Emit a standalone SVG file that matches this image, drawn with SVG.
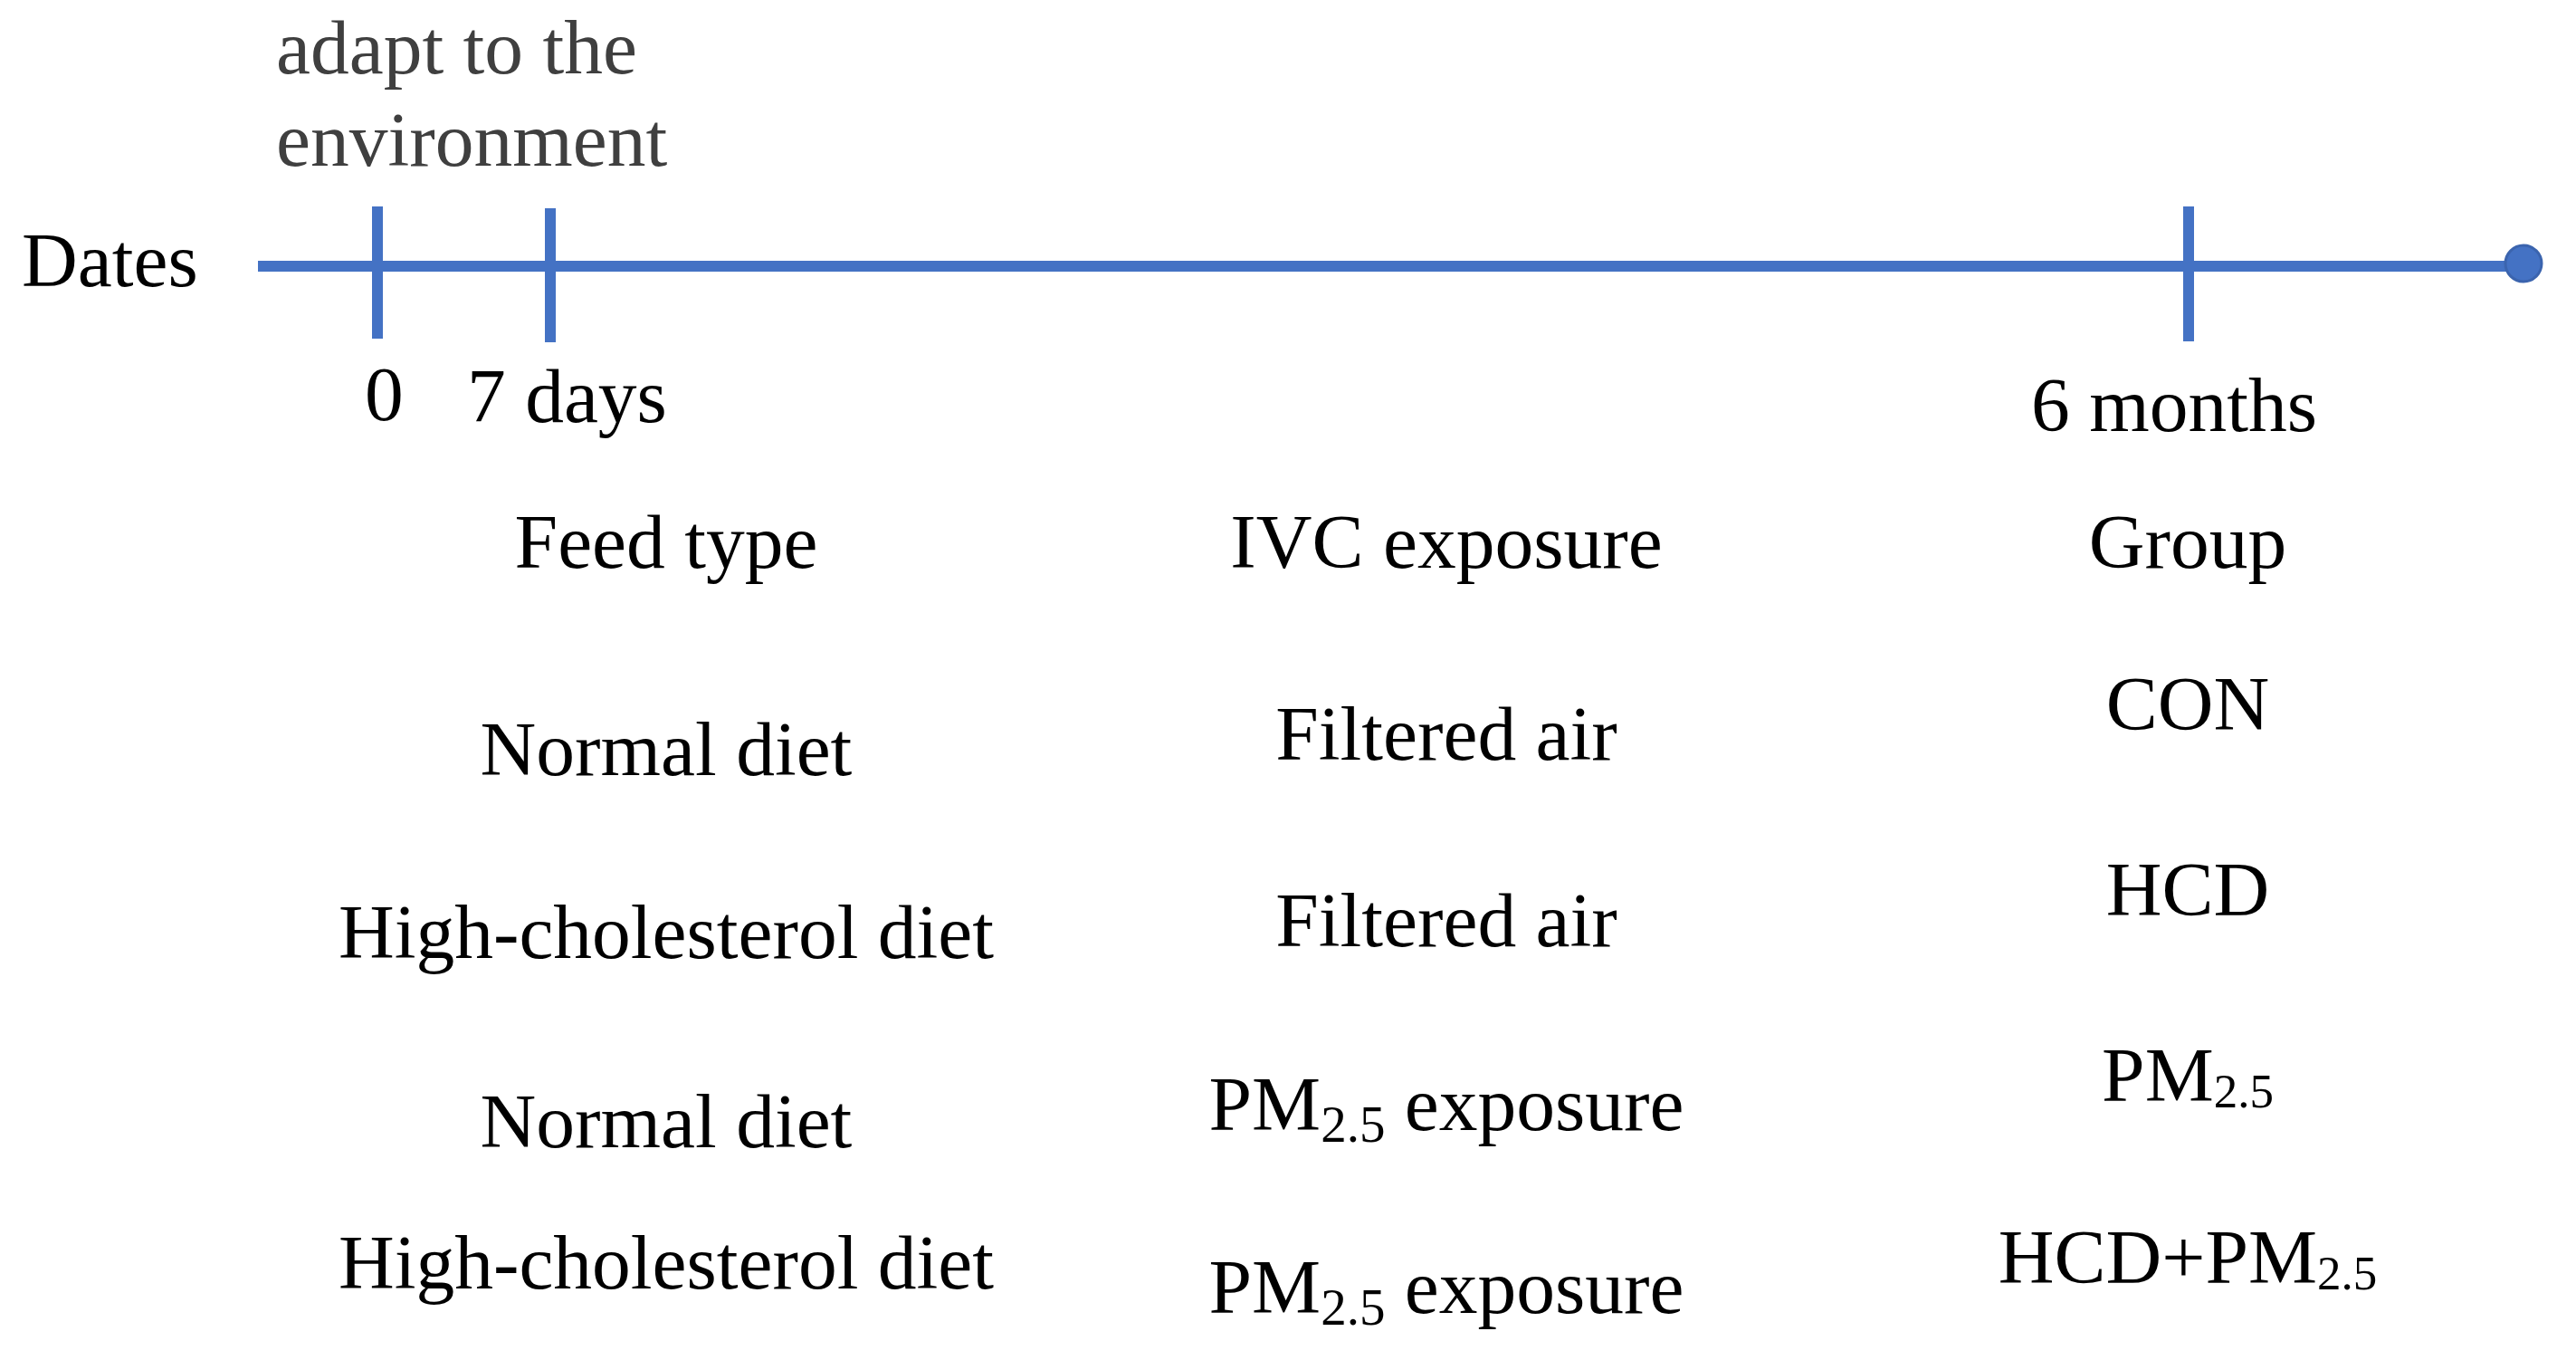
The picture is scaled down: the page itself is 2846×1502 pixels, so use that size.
<svg xmlns="http://www.w3.org/2000/svg" width="2846" height="1502" viewBox="0 0 2846 1502">
<style>
text{font-family:"Liberation Serif","Times New Roman",serif;font-size:85.5px;fill:#000}
.gray{fill:#3f3f3f}
.c{text-anchor:middle}
.axis{stroke:#4472C4;stroke-width:12;fill:none}
.sub{font-size:57px}
.subg{font-size:53px}
</style>
<rect width="2846" height="1502" fill="#fff"/>
<g id="connectors">
<line class="axis" x1="285" y1="294" x2="2788" y2="294"/>
<line class="axis" x1="417" y1="228" x2="417" y2="374"/>
<line class="axis" x1="608" y1="230" x2="608" y2="378"/>
<line class="axis" x1="2418" y1="228" x2="2418" y2="377"/>
<circle cx="2788" cy="291" r="20" fill="#4472C4" stroke="#3B64AE" stroke-width="3"/>
</g>
<g id="adapt"><text class="gray" x="305" y="81">adapt to the</text><text class="gray" x="305" y="183">environment</text></g>
<g id="dates"><text x="24" y="316">Dates</text></g>
<g id="t0"><text x="403" y="464">0</text></g>
<g id="t7"><text x="516" y="466">7 days</text></g>
<g id="t6"><text x="2244" y="476">6 months</text></g>
<g id="col-feed">
<text class="c" x="736" y="627">Feed type</text>
<text class="c" x="736" y="856">Normal diet</text>
<text class="c" x="736" y="1058">High-cholesterol diet</text>
<text class="c" x="736" y="1267">Normal diet</text>
<text class="c" x="736" y="1423">High-cholesterol diet</text>
</g>
<g id="col-ivc">
<text class="c" x="1598" y="627">IVC exposure</text>
<text class="c" x="1598" y="839">Filtered air</text>
<text class="c" x="1598" y="1045">Filtered air</text>
<text class="c" x="1598" y="1248">PM<tspan class="sub" dy="13">2.5</tspan><tspan dy="-13"> exposure</tspan></text>
<text class="c" x="1598" y="1450">PM<tspan class="sub" dy="13">2.5</tspan><tspan dy="-13"> exposure</tspan></text>
</g>
<g id="col-group">
<text class="c" x="2417" y="627">Group</text>
<text class="c" x="2417" y="806">CON</text>
<text class="c" x="2417" y="1011">HCD</text>
<text class="c" x="2417" y="1216">PM<tspan class="subg" dy="7">2.5</tspan></text>
<text class="c" x="2417" y="1417">HCD+PM<tspan class="subg" dy="7">2.5</tspan></text>
</g>
</svg>
